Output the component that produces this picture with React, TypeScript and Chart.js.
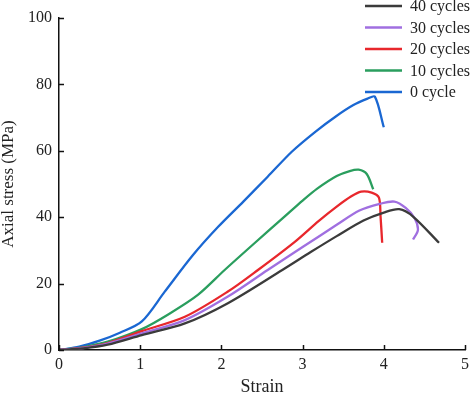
import React, { useEffect, useRef } from "react";
import { Chart, registerables } from "chart.js";
Chart.register(...registerables);

const seriesLabels = ["40 cycles", "30 cycles", "20 cycles", "10 cycles", "0 cycle"];
const seriesColors = ["#3b3b3b", "#a06fe0", "#e8272c", "#2a9e5e", "#1a67d2"];

const strain40 = [0, 0.3, 0.6, 1.02, 1.55, 2.08, 2.75, 3.1, 3.42, 3.75, 4.0, 4.19, 4.36, 4.68];
const stress40 = [0, 0.5, 1.6, 4.5, 8.0, 14.1, 24.1, 29.5, 34.3, 39.0, 41.4, 42.4, 40.2, 32.3];

const strain30 = [0, 0.3, 0.6, 1.02, 1.55, 2.08, 2.57, 3.0, 3.42, 3.7, 3.95, 4.13, 4.27, 4.38, 4.42, 4.36];
const stress30 = [0, 0.6, 1.9, 5.0, 9.0, 16.1, 24.1, 31.0, 37.7, 42.0, 44.0, 44.7, 42.8, 39.7, 36.1, 33.3];

const strain20 = [0, 0.3, 0.6, 1.02, 1.55, 2.08, 2.45, 2.9, 3.2, 3.42, 3.6, 3.72, 3.85, 3.94, 3.96, 3.98];
const stress20 = [0, 0.7, 2.1, 5.7, 10.0, 17.6, 24.1, 32.5, 38.9, 43.2, 46.3, 47.7, 47.4, 45.9, 40.2, 32.3];

const strain10 = [0, 0.3, 0.6, 1.02, 1.35, 1.71, 2.04, 2.4, 2.77, 3.0, 3.18, 3.42, 3.58, 3.69, 3.79, 3.87];
const stress10 = [0, 0.9, 2.5, 6.3, 10.8, 16.6, 24.1, 32.0, 40.0, 45.0, 48.6, 52.4, 53.9, 54.3, 53.0, 48.4];

const strain0 = [0, 0.25, 0.5, 0.75, 1.02, 1.3, 1.65, 1.96, 2.27, 2.57, 2.87, 3.16, 3.4, 3.62, 3.8, 3.89, 4.0];
const stress0 = [0, 1.0, 2.8, 5.2, 8.6, 17.5, 28.6, 37.1, 44.7, 52.2, 59.8, 65.8, 70.2, 73.7, 75.7, 76.3, 67.1];

const seriesStrain = [strain40, strain30, strain20, strain10, strain0];
const seriesStress = [stress40, stress30, stress20, stress10, stress0];

const FONT = "'Liberation Serif', 'Times New Roman', serif";

const inwardTicks = {
  id: "inwardTicks",
  afterDraw(chart: any) {
    const { ctx, chartArea } = chart;
    const xs = chart.scales.x;
    const ys = chart.scales.y;
    ctx.save();
    ctx.strokeStyle = "#111";
    ctx.lineWidth = 1.5;
    xs.ticks.forEach((t: any) => {
      const px = Math.round(xs.getPixelForValue(t.value)) + 0.5;
      ctx.beginPath();
      ctx.moveTo(px, chartArea.bottom);
      ctx.lineTo(px, chartArea.bottom - 5);
      ctx.stroke();
    });
    ys.ticks.forEach((t: any) => {
      const py = Math.round(ys.getPixelForValue(t.value)) + 0.5;
      ctx.beginPath();
      ctx.moveTo(chartArea.left, py);
      ctx.lineTo(chartArea.left + 5, py);
      ctx.stroke();
    });
    ctx.restore();
  },
};

const insideLegend = {
  id: "insideLegend",
  afterDraw(chart: any) {
    const { ctx } = chart;
    const x0 = chart.width - 109;
    ctx.save();
    ctx.font = "16px " + FONT;
    ctx.textBaseline = "middle";
    ctx.textAlign = "left";
    seriesLabels.forEach((lab, i) => {
      const y = 6 + i * 21.5;
      ctx.strokeStyle = seriesColors[i];
      ctx.lineWidth = 2.5;
      ctx.beginPath();
      ctx.moveTo(x0, y);
      ctx.lineTo(x0 + 37, y);
      ctx.stroke();
      ctx.fillStyle = "#222";
      ctx.fillText(lab, x0 + 45, y + 1);
    });
    ctx.restore();
  },
};

export default function App() {
  const ref = useRef<HTMLCanvasElement>(null);
  useEffect(() => {
    if (!ref.current) return;
    const datasets = seriesLabels.map((lab, i) => ({
      label: lab,
      data: seriesStrain[i].map((x, j) => ({ x, y: seriesStress[i][j] })),
      borderColor: seriesColors[i],
      backgroundColor: seriesColors[i],
      borderWidth: 2.3,
      pointRadius: 0,
      tension: 0.3,
      fill: false,
    }));
    const chart = new Chart(ref.current, {
      type: "line",
      data: { datasets },
      options: {
        animation: false,
        responsive: false,
        maintainAspectRatio: false,
        layout: { padding: { top: 18, right: 5, left: 0, bottom: 0 } },
        plugins: { legend: { display: false }, tooltip: { enabled: false } },
        scales: {
          x: {
            type: "linear",
            min: 0,
            max: 5,
            grid: { display: false, drawTicks: false },
            border: { display: true, color: "#111", width: 1.5 },
            ticks: { stepSize: 1, padding: 5, color: "#222", font: { family: FONT, size: 16 } },
            title: { display: true, text: "Strain", color: "#222", font: { family: FONT, size: 18, lineHeight: 0.6 }, padding: 0 },
            afterFit: (s: any) => { s.height = 43; },
          },
          y: {
            type: "linear",
            min: 0,
            max: 100,
            grid: { display: false, drawTicks: false },
            border: { display: true, color: "#111", width: 1.5 },
            ticks: { stepSize: 20, padding: 7, color: "#222", font: { family: FONT, size: 16 } },
            title: { display: true, text: "Axial stress (MPa)", color: "#222", font: { family: FONT, size: 17, lineHeight: 1.0 }, padding: 0 },
            afterFit: (s: any) => { s.width = 59; },
          },
        },
      },
      plugins: [inwardTicks, insideLegend],
    });
    return () => chart.destroy();
  }, []);
  return (
    <div style={{ position: "fixed", left: 0, top: 0, width: 474, height: 393, background: "#fff" }}>
      <canvas ref={ref} width={474} height={393} style={{ width: 474, height: 393, display: "block" }} />
    </div>
  );
}
